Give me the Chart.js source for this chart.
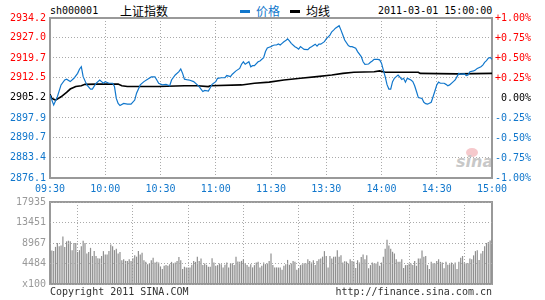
<!DOCTYPE html>
<html>
<head>
<meta charset="utf-8">
<script src="https://cdn.jsdelivr.net/npm/chart.js@4"></script>
<style>
  body { margin: 0; background: #fff; width: 545px; height: 300px; position: relative; overflow: hidden; font-family: "DejaVu Sans Mono", monospace; }
  canvas { position: absolute; left: 0; }
  .t { position: absolute; font-size: 10px; line-height: 12px; white-space: nowrap; }
  .c { position: absolute; font-family: "Noto Sans CJK SC", sans-serif; font-size: 12px; line-height: 14px; white-space: nowrap; }
  .dash { position: absolute; width: 10px; height: 3px; }
</style>
</head>
<body>
<div class="t" style="left:50px;top:5px;color:#000">sh000001</div>
<div class="c" style="left:120px;top:4px;color:#000">上证指数</div>
<div class="dash" style="left:240px;top:10px;background:#1177cc"></div>
<div class="c" style="left:256px;top:4px;color:#1177cc">价格</div>
<div class="dash" style="left:290px;top:10px;background:#000"></div>
<div class="c" style="left:306px;top:4px;color:#000">均线</div>
<div class="t" style="left:378px;top:5px;color:#000">2011-03-01 15:00:00</div>

<div style="position:absolute;left:466px;top:148px;width:12px;height:9px;border-radius:50%;background:#f6c9cc"></div>
<div style="position:absolute;left:456px;top:152px;font:italic bold 16px 'DejaVu Sans',sans-serif;color:#c8c8c8">sina</div>

<canvas id="price" width="545" height="200" style="top:0"></canvas>
<canvas id="vol" width="545" height="104" style="top:190px"></canvas>

<div class="t" style="left:50px;top:286px;color:#333">Copyright 2011 SINA.COM</div>
<div class="t" style="right:53px;top:286px;color:#333">http://finance.sina.com.cn</div>

<script>
// 分时数据 (minutes after 09:30, lunch break removed)
const timeLabels = ['09:30', '10:00', '10:30', '11:00', '11:30', '13:30', '14:00', '14:30', '15:00'];
const prevClose = 2905.2;
const priceTicks = [2876.1, 2883.4, 2890.7, 2897.9, 2905.2, 2912.5, 2919.7, 2927.0, 2934.2];
const pctTicks = [-1, -0.75, -0.5, -0.25, 0, 0.25, 0.5, 0.75, 1];
const volTicks = [0, 4484, 8967, 13451, 17935];

const priceMin = [0, 2, 4, 6, 8, 9, 11, 13, 15, 16, 17, 18, 20, 22, 23, 25, 27, 28, 29, 30,
  32, 34, 35, 36, 37, 38, 40, 42, 44, 46, 47, 49, 51, 53, 55, 57, 58, 59, 61, 63,
  65, 66, 68, 70, 71, 72, 73, 75, 76, 78, 80, 81, 82, 83, 84, 86, 87, 88, 90, 91,
  93, 95, 96, 98, 99, 101, 103, 104, 105, 106, 108, 109, 110, 111, 113, 114, 116, 117, 118, 119,
  120, 121, 122, 123, 124, 125, 126, 127, 128, 129, 130, 131, 133, 134, 135, 136, 138, 140, 141, 142,
  144, 145, 146, 147, 149, 150, 152, 153, 154, 155, 157, 158, 159, 160, 162, 163, 164, 166, 167, 169,
  170, 171, 173, 174, 175, 176, 178, 179, 180, 181, 182, 183, 184, 185, 186, 187, 188, 189, 190, 191,
  192, 193, 194, 195, 196, 197, 198, 199, 200, 202, 203, 204, 205, 207, 208, 209, 210, 211, 212, 214,
  215, 216, 217, 219, 220, 221, 222, 223, 225, 226, 227, 228, 230, 231, 232, 234, 235, 236, 237, 238,
  239, 240];
const priceVal = [2906.2, 2902.6, 2905.6, 2909.9, 2911.7, 2912.0, 2911.1, 2912.3, 2914.1, 2915.6, 2916.5, 2912.9, 2909.9, 2908.4, 2908.4, 2910.5, 2911.7, 2911.1, 2910.5, 2911.1,
  2910.5, 2910.5, 2909.3, 2905.0, 2903.2, 2902.4, 2903.2, 2902.9, 2902.9, 2904.4, 2906.9, 2909.9, 2911.1, 2912.0, 2912.8, 2912.8, 2911.7, 2910.5, 2909.9, 2910.1,
  2909.6, 2911.7, 2913.5, 2914.7, 2915.7, 2914.1, 2912.0, 2911.7, 2911.6, 2911.1, 2909.9, 2909.3, 2908.4, 2907.5, 2907.9, 2907.7, 2908.9, 2910.1, 2911.1, 2912.3,
  2912.5, 2912.5, 2913.3, 2912.9, 2913.8, 2915.0, 2915.9, 2917.4, 2918.3, 2917.4, 2918.3, 2916.5, 2916.9, 2916.9, 2918.3, 2918.6, 2919.8, 2922.0, 2923.3, 2923.6,
  2923.8, 2924.2, 2924.4, 2924.4, 2924.8, 2924.4, 2925.0, 2925.6, 2926.0, 2926.6, 2925.9, 2925.0, 2923.8, 2923.4, 2922.9, 2923.8, 2922.8, 2922.7, 2923.4, 2923.8,
  2924.7, 2924.0, 2924.7, 2924.7, 2925.6, 2926.6, 2928.0, 2929.2, 2929.8, 2930.5, 2931.4, 2929.8, 2928.0, 2926.2, 2924.2, 2923.8, 2923.8, 2923.2, 2922.0, 2920.2,
  2918.3, 2917.4, 2917.5, 2918.1, 2918.6, 2919.2, 2919.2, 2919.0, 2917.8, 2915.3, 2912.9, 2910.0, 2908.4, 2908.4, 2911.1, 2912.3, 2912.9, 2913.5, 2912.7, 2911.9,
  2912.3, 2910.9, 2912.3, 2912.0, 2911.7, 2911.1, 2909.6, 2907.5, 2905.3, 2905.0, 2903.6, 2903.1, 2902.9, 2903.6, 2905.6, 2907.7, 2909.9, 2910.9, 2910.5, 2910.5,
  2910.1, 2909.6, 2909.9, 2911.1, 2911.7, 2912.9, 2914.1, 2913.8, 2913.9, 2913.3, 2913.5, 2914.7, 2915.0, 2915.3, 2915.9, 2916.5, 2917.1, 2918.1, 2918.7, 2919.6,
  2919.9, 2919.2];

const avgMin = [0, 1, 3, 6, 9, 11, 14, 17, 19, 26, 37, 39, 42, 59, 73, 80, 86, 87, 104, 111,
  119, 127, 136, 145, 153, 159, 165, 176, 179, 182, 200, 201, 221, 240];
const avgVal = [2906.5, 2905.0, 2904.4, 2905.6, 2907.2, 2908.4, 2909.3, 2909.6, 2910.1, 2910.2, 2910.2, 2909.6, 2909.3, 2909.3, 2909.6, 2909.6, 2909.3, 2909.6, 2909.9, 2910.5,
  2910.9, 2911.7, 2912.3, 2912.9, 2913.5, 2914.1, 2914.5, 2914.7, 2915.0, 2914.5, 2914.5, 2914.1, 2913.9, 2914.1];

// 成交量 (x100), one bar per minute
const volAm = [7191, 7334, 7191, 8117, 8971, 8259, 8402, 10395, 8117, 9327,
  9470, 9327, 7405, 8971, 8971, 6978, 7405, 8259, 9470, 8971,
  6693, 6978, 7903, 6123, 7191, 6123, 5625, 5554, 6123, 7191,
  6479, 6479, 7191, 8615, 8259, 7405, 7690, 6693, 6978, 5198, 5411,
  5055, 5055, 5411, 5055, 5625, 6266, 5981, 7191, 6479, 6835, 5198,
  4842, 4343, 4557, 5198, 5767, 4699, 4842, 4699, 3845, 3275, 3987,
  4130, 3987, 4343, 4842, 4557, 4699, 5055, 5910, 5198, 3275, 3774,
  3631, 3631, 3631, 4201, 5055, 4842, 5981, 5055, 5554, 4130, 4486,
  4201, 3774, 3774, 5625, 4699, 3987, 4130, 4486, 4343, 3631, 4201,
  4699, 3631, 4486, 4557, 4130, 5981, 4913, 4842, 5055, 5411, 4557,
  4130, 3774, 4343, 3631, 4130, 4699, 4842, 3631, 3987, 4699, 4343,
  4486, 5055, 6693];
const volPm = [4130, 3631, 3631, 3631, 3631, 3133, 3987, 4343, 5269, 4201, 4486,
  5055, 4842, 3133, 3418, 4130, 4343, 4557, 4486, 5411, 5055, 4699,
  5198, 4130, 5055, 5411, 5554, 5981, 7191, 6123, 3631, 6123, 5554,
  5981, 5981, 7405, 5981, 6266, 4699, 4984, 4913, 4486, 5411, 5055,
  4913, 3489, 5198, 4699, 5910, 6479, 5411, 6266, 3418, 4130, 4699,
  4486, 4486, 4842, 3987, 4699, 5981, 7690, 9683, 8402, 7690, 7048,
  6693, 5411, 4842, 4842, 5411, 3489, 4130, 4130, 4486, 4486, 4130,
  5055, 3987, 5554, 5554, 7334, 5981, 6123, 4130, 3275, 4842, 4557,
  4486, 5055, 5411, 4842, 4699, 3418, 4842, 4201, 4343, 4699, 4343,
  4699, 3275, 4842, 5767, 6123, 4699, 4557, 4557, 5554, 5411, 6266,
  7191, 7405, 5269, 6693, 7191, 8259, 8971, 9185, 9540, 9826];

const RED = '#ff0000', BLUE = '#1177cc', GRID = '#aaaaaa', MONO = 'DejaVu Sans Mono';

function upDownColor(v, base) {
  if (Math.abs(v - base) < 1e-6) return '#000';
  return v > base ? RED : BLUE;
}

const frame = {
  id: 'frame',
  beforeDatasetsDraw(chart) {
    const { ctx, chartArea: a } = chart;
    ctx.save();
    ctx.strokeStyle = '#999';
    ctx.lineWidth = 2;
    ctx.strokeRect(a.left, a.top, a.right - a.left, a.bottom - a.top);
    ctx.restore();
  }
};

const xAxis = (showLabels) => ({
  type: 'linear', min: 0, max: 240,
  afterBuildTicks: s => { s.ticks = timeLabels.map((t, i) => ({ value: i * 30 })); },
  afterFit: s => { s.height = showLabels ? 22 : 0; },
  grid: { color: GRID, drawTicks: false },
  border: { display: false, dash: [1, 2] },
  ticks: {
    display: showLabels, color: BLUE, padding: 5, maxRotation: 0, autoSkip: false,
    font: { family: MONO, size: 10 },
    callback: (v, i) => timeLabels[i]
  }
});

new Chart(document.getElementById('price'), {
  type: 'line',
  data: {
    datasets: [
      {
        label: '价格',
        data: priceMin.map((m, i) => ({ x: m, y: priceVal[i] })),
        borderColor: BLUE, borderWidth: 1.2, pointRadius: 0, tension: 0, yAxisID: 'y'
      },
      {
        label: '均线',
        data: avgMin.map((m, i) => ({ x: m, y: avgVal[i] })),
        borderColor: '#000', borderWidth: 1.6, pointRadius: 0, tension: 0, yAxisID: 'y'
      }
    ]
  },
  options: {
    responsive: false,
    animation: false,
    layout: { padding: { top: 18, right: 14, left: 0, bottom: 0 } },
    plugins: { legend: { display: false }, tooltip: { enabled: false } },
    scales: {
      x: xAxis(true),
      y: {
        position: 'left', min: priceTicks[0], max: priceTicks[priceTicks.length - 1],
        afterBuildTicks: s => { s.ticks = priceTicks.map(v => ({ value: v })); },
        afterFit: s => { s.width = 50; },
        grid: { color: GRID, drawTicks: false },
        border: { display: false, dash: [1, 2] },
        ticks: {
          padding: 4, font: { family: MONO, size: 10 },
          color: c => upDownColor(c.tick.value, prevClose),
          callback: v => v.toFixed(1)
        }
      },
      pct: {
        position: 'right', min: -1, max: 1,
        afterBuildTicks: s => { s.ticks = pctTicks.map(v => ({ value: v })); },
        afterFit: s => { s.width = 39; },
        grid: { display: false, drawTicks: false },
        border: { display: false },
        ticks: {
          padding: 3, crossAlign: 'far', font: { family: MONO, size: 10 },
          color: c => upDownColor(c.tick.value, 0),
          callback: v => (v > 0 ? '+' : '') + v.toFixed(2) + '%'
        }
      }
    }
  },
  plugins: [frame]
});

const volume = volAm.concat(volPm);

new Chart(document.getElementById('vol'), {
  type: 'bar',
  data: {
    datasets: [{
      data: volume.map((v, i) => ({ x: i, y: v })),
      backgroundColor: '#8f8f8f',
      barPercentage: 0.65, categoryPercentage: 1
    }]
  },
  options: {
    responsive: false,
    animation: false,
    layout: { padding: { top: 12, right: 53, left: 0, bottom: 8 } },
    plugins: { legend: { display: false }, tooltip: { enabled: false } },
    scales: {
      x: Object.assign(xAxis(false), { offset: false }),
      y: {
        position: 'left', min: 0, max: volTicks[volTicks.length - 1],
        afterBuildTicks: s => { s.ticks = volTicks.map(v => ({ value: v })); },
        afterFit: s => { s.width = 50; },
        grid: { color: GRID, drawTicks: false, z: 1 },
        border: { display: false, dash: [1, 2] },
        ticks: {
          padding: 4, color: '#999', font: { family: MONO, size: 10 },
          callback: v => v === 0 ? 'x100' : String(v)
        }
      }
    }
  },
  plugins: [frame]
});
</script>
</body>
</html>
